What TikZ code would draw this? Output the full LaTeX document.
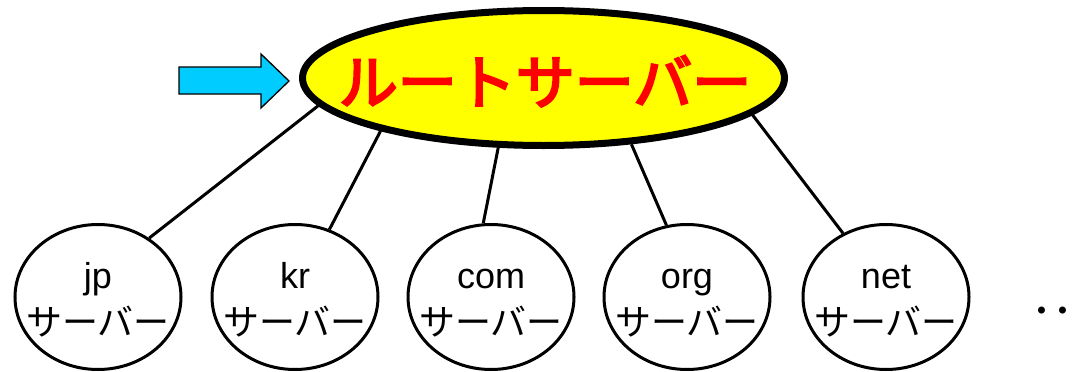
\documentclass[tikz,border=0pt]{standalone}
\usepackage{fontspec}
\setmainfont{Liberation Sans}
\newfontfamily\jpfont{Noto Sans CJK JP}
\newfontfamily\jpheavy{Noto Sans CJK JP}[FakeBold=4]
\usetikzlibrary{shapes.geometric}
\definecolor{arrowcyan}{RGB}{0,204,255}
\definecolor{rootyellow}{RGB}{255,255,0}
\definecolor{rootred}{RGB}{255,0,0}
\tikzset{
  rootnode/.style={ellipse, draw=black, line width=7pt, fill=rootyellow,
    minimum width=482pt, minimum height=135pt, inner sep=0pt},
  roottext/.style={anchor=base, inner sep=0pt, text=rootred,
    font=\jpheavy\fontsize{59}{64}\selectfont},
  srv/.style={ellipse, draw=black, line width=3pt,
    minimum width=166pt, minimum height=145pt, inner sep=0pt},
  lat/.style={anchor=base, inner sep=0pt, font=\fontsize{36}{40}\selectfont},
  kana/.style={anchor=base, inner sep=0pt, font=\jpfont\fontsize{36}{40}\selectfont},
  link/.style={draw=black, line width=3pt},
  pointer/.style={fill=arrowcyan, draw=black, line width=1.3pt, line join=miter},
  more/.style={anchor=base, inner sep=0pt, font=\jpfont\fontsize{42}{46}\selectfont}
}
\begin{document}
\begin{tikzpicture}[x=1pt, y=-1pt]
\useasboundingbox (0,0) rectangle (1076,372);

% root server
\node[rootnode] (root) at (543.5,78) {};
\node[roottext] (rootlabel) at (545,104) {ルートサーバー};

% block arrow pointing at the root
\draw[pointer] (179,67) -- (261,67) -- (261,54) -- (289,81) -- (261,108)
  -- (261,94) -- (179,94) -- cycle;

% second-level servers
\foreach \n/\x in {jp/98, kr/295, com/491, org/687, net/886} {
  \node[srv] (\n) at (\x,297) {};
  \node[lat] (\n-name) at (\x,288) {\n};
  \node[kana] (\n-kind) at (\x,335) {サーバー};
}

% links from the root to each server
\draw[link] (root.187) -- (jp.49);
\draw[link] (root.198) -- (kr.63);
\draw[link] (root.237) -- (com.96);
\draw[link] (root.323) -- (org.106);
\draw[link] (root.350) -- (net.124);

% continuation dots
\node[more, anchor=base west] (dots) at (1031,326) {･･};
\end{tikzpicture}
\end{document}
